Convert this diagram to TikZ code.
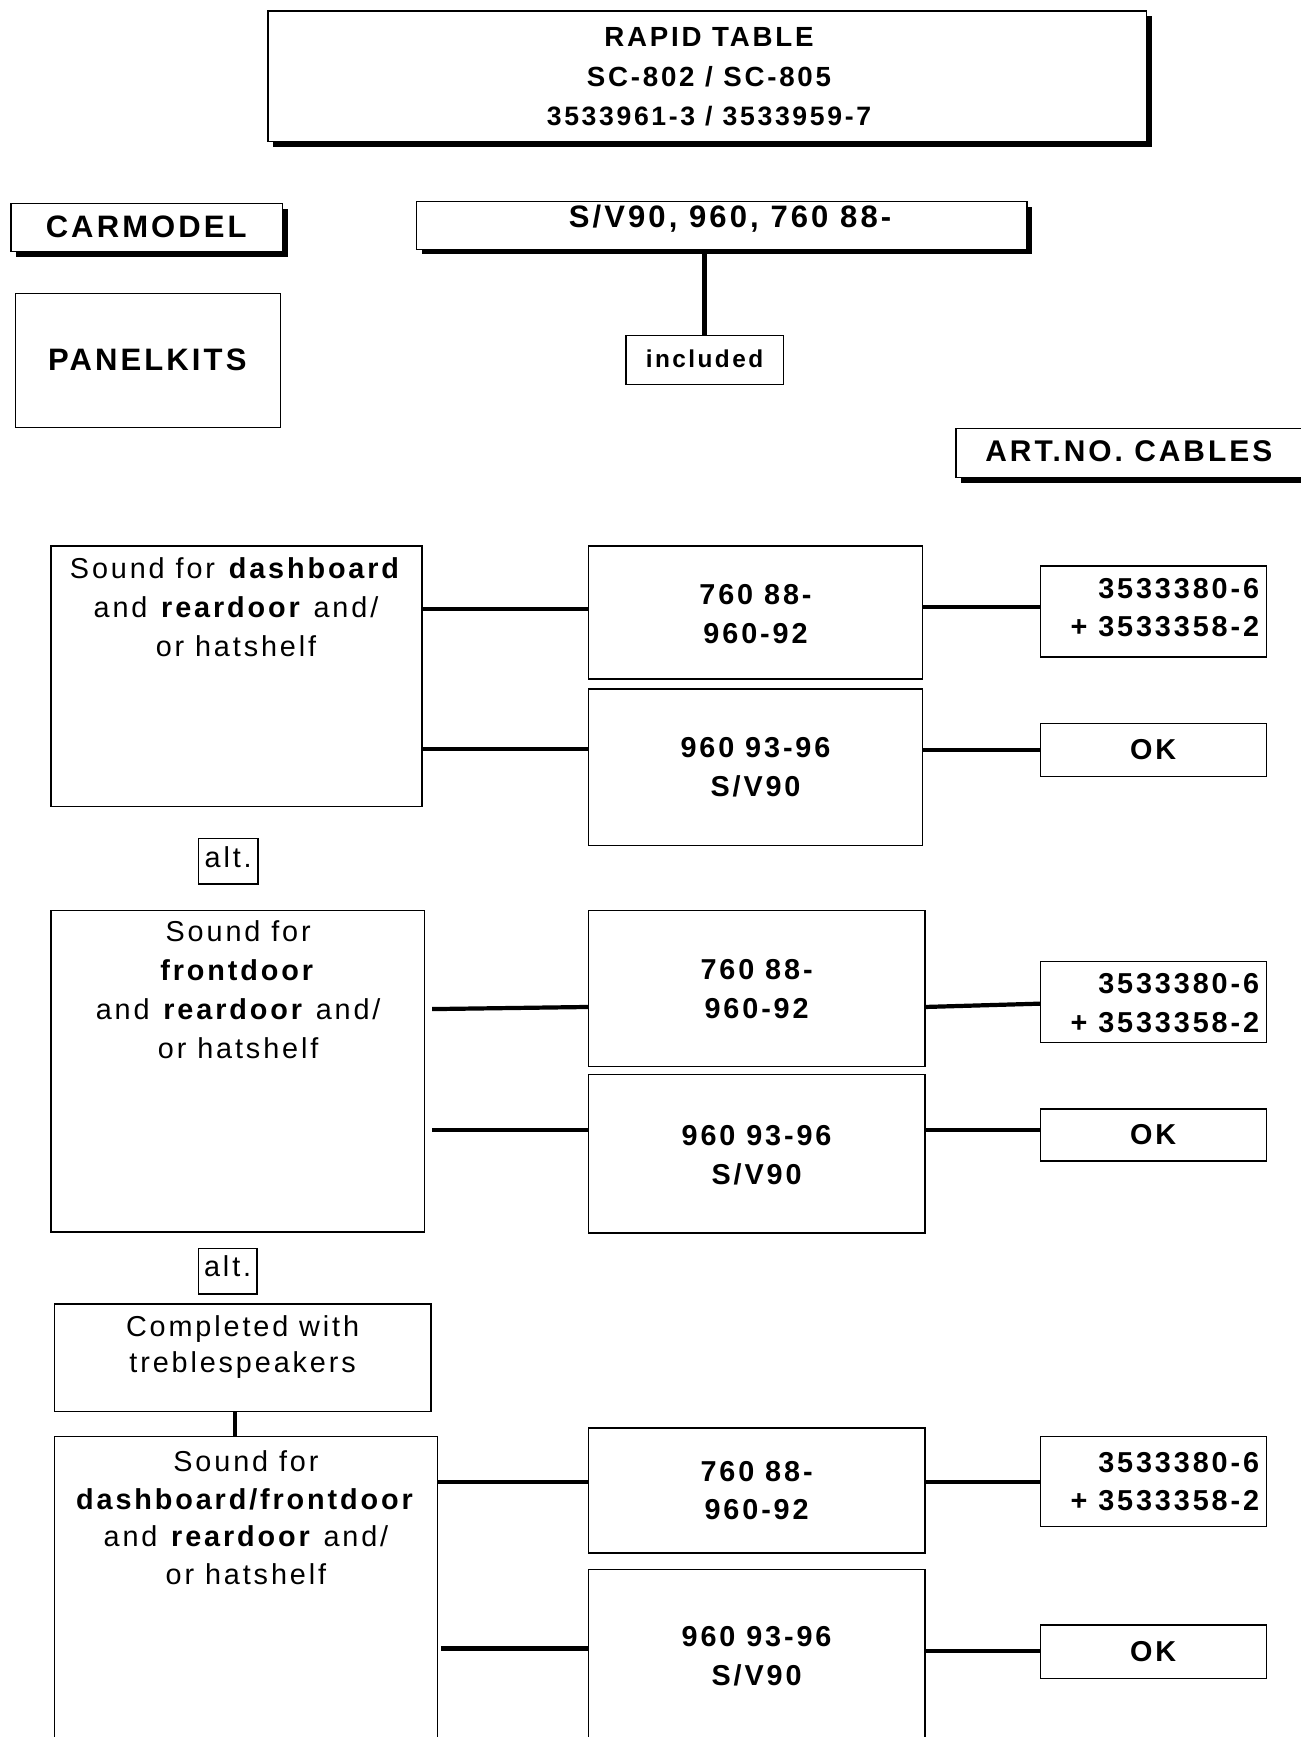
\documentclass[tikz,border=0pt]{standalone}
\usepackage{fontspec}
\setmainfont{Liberation Sans}[LetterSpace=10]
\usetikzlibrary{shadows}
\newcommand\mybox[6][]{\node[box,#1,minimum width={(#5-#3)*0.5pt},minimum height={(#6-#4)*0.5pt}] (#2) at ({(#3+#5)/2},{(#4+#6)/2}) {};}
\begin{document}
\begin{tikzpicture}[x=0.5pt,y=-0.5pt,
  box/.style={draw,line width=0.6pt,rectangle,inner sep=0pt,outer sep=0pt,fill=white},
  shbox/.style={drop shadow={shadow xshift=2.3pt,shadow yshift=-2.3pt,fill=black,opacity=1}},
  conn/.style={line width=1.9pt},
  body/.style={inner sep=0pt,align=center,font=\fontsize{13}{17.5}\selectfont},
  num/.style={inner sep=0pt,align=center,font=\bfseries\fontsize{13}{17.5}\selectfont},
  head/.style={inner sep=0pt,font=\bfseries\fontsize{14}{17}\selectfont}]
\path[use as bounding box,fill=white] (0,0) rectangle (1174,1568);
% header
\mybox[shbox]{title}{242}{10}{1035}{128}
\node[num,font=\bfseries\fontsize{12.5}{17.8}\selectfont] (titlet) at (640,69.5) {RAPID TABLE\\SC-802 / SC-805\\{\fontsize{12}{16.5}\selectfont 3533961-3 / 3533959-7}};
\mybox[shbox]{car}{10}{184}{255}{227}
\node[head] (cart) at (132,205) {CARMODEL};
\mybox[shbox]{sv}{376}{182}{927}{225}
\node[head] (svt) at (659,197) {S/V90, 960, 760 88-};
\mybox{inc}{565}{303}{707}{347}
\node[head,font=\bfseries\fontsize{11}{13}\selectfont] (inct) at (636,324) {included};
\mybox{pk}{14}{265}{253}{386}
\node[head] (pkt) at (133,325) {PANELKITS};
\mybox[shbox]{art}{863}{387}{1190}{431}
\node[head,font=\bfseries\fontsize{13.5}{17}\selectfont] (artt) at (1019,407) {ART.NO. CABLES};
\draw[conn] (sv.south -| inc.north) -- (inc.north);
% section 1
\mybox{L1}{46}{493}{381}{728}
\node[body,anchor=north] (L1t) at (213,503) {Sound for \textbf{dashboard}\\and \textbf{reardoor} and/\\or hatshelf};
\mybox{A1}{531}{493}{833}{613}
\node[num] (A1t) at (682,554.5) {760 88-\\960-92};
\mybox{B1}{531}{622}{833}{763}
\node[num] (B1t) at (682,692.5) {960 93-96\\S/V90};
\mybox{C1}{939}{511}{1143}{593}
\node[num,align=right,anchor=east] (C1t) at (1137,548.5) {3533380-6\\+ 3533358-2};
\mybox{D1}{939}{653}{1143}{701}
\node[num] (D1t) at (1041,677) {OK};
\mybox{alt1}{179}{757}{233}{798}
\node[body] (alt1t) at (206,774) {alt.};
\draw[conn] (L1.east |- 0,550) -- (A1.west |- 0,550);
\draw[conn] (A1.east |- 0,548) -- (C1.west |- 0,548);
\draw[conn] (L1.east |- 0,676) -- (B1.west |- 0,676);
\draw[conn] (B1.east |- 0,677) -- (D1.west |- 0,677);
% section 2
\mybox{L2}{46}{822}{383}{1112}
\node[body,anchor=north] (L2t) at (215,831) {Sound for\\\textbf{frontdoor}\\and \textbf{reardoor} and/\\or hatshelf};
\mybox{A2}{531}{822}{835}{963}
\node[num] (A2t) at (683,892.5) {760 88-\\960-92};
\mybox{B2}{531}{970}{835}{1113}
\node[num] (B2t) at (683,1042.5) {960 93-96\\S/V90};
\mybox{C2}{939}{868}{1143}{941}
\node[num,align=right,anchor=east] (C2t) at (1137,905.5) {3533380-6\\+ 3533358-2};
\mybox{D2}{939}{1001}{1143}{1048}
\node[num] (D2t) at (1041,1024.5) {OK};
\mybox{alt2}{179}{1127}{232}{1168}
\node[body] (alt2t) at (205.5,1143) {alt.};
\draw[conn,shorten <=3.5pt] (L2.east |- 0,911) -- (A2.west |- 0,909);
\draw[conn] (A2.east |- 0,909) -- (C2.west |- 0,906);
\draw[conn,shorten <=3.5pt] (L2.east |- 0,1020) -- (B2.west |- 0,1020);
\draw[conn] (B2.east |- 0,1020) -- (D2.west |- 0,1020);
% section 3
\mybox{T3}{49}{1177}{389}{1274}
\node[body,anchor=north,font=\fontsize{13}{16.5}\selectfont] (T3t) at (219,1187) {Completed with\\treblespeakers};
\mybox{L3}{49}{1297}{395}{1590}
\node[body,anchor=north,font=\fontsize{13}{17}\selectfont] (L3t) at (222,1309) {Sound for\\\textbf{dashboard/frontdoor}\\and \textbf{reardoor} and/\\or hatshelf};
\mybox{A3}{531}{1289}{835}{1402}
\node[num] (A3t) at (683,1345.5) {760 88-\\960-92};
\mybox{B3}{531}{1417}{835}{1590}
\node[num] (B3t) at (683,1495) {960 93-96\\S/V90};
\mybox{C3}{939}{1297}{1143}{1378}
\node[num,align=right,anchor=east] (C3t) at (1137,1337.5) {3533380-6\\+ 3533358-2};
\mybox{D3}{939}{1467}{1143}{1515}
\node[num] (D3t) at (1041,1491) {OK};
\draw[conn] (T3.south -| 212,0) -- (L3.north -| 212,0);
\draw[conn] (L3.east |- 0,1338) -- (A3.west |- 0,1338);
\draw[conn] (A3.east |- 0,1338) -- (C3.west |- 0,1338);
\draw[conn,shorten <=1.5pt] (L3.east |- 0,1488) -- (B3.west |- 0,1488);
\draw[conn] (B3.east |- 0,1490) -- (D3.west |- 0,1490);
\end{tikzpicture}
\end{document}
